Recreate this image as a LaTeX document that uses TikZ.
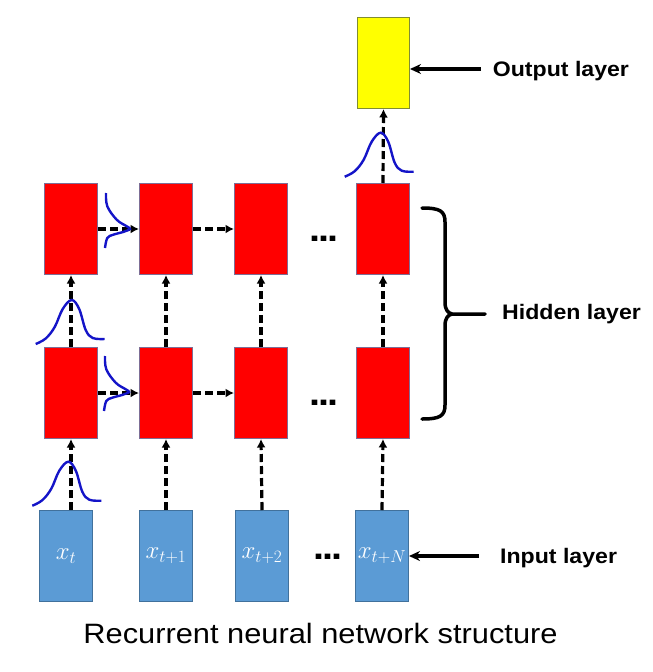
\documentclass[tikz,border=0pt]{standalone}
\usepackage{fontspec}
\setmainfont{Liberation Sans}[FakeStretch=1.1]
\usetikzlibrary{arrows.meta,calc}
\definecolor{redbox}{RGB}{255,0,0}
\definecolor{redline}{RGB}{125,110,150}
\definecolor{bluebox}{RGB}{91,155,213}
\definecolor{blueline}{RGB}{65,113,156}
\definecolor{yelbox}{RGB}{255,255,0}
\definecolor{yelline}{RGB}{128,140,50}
\definecolor{gaussblue}{RGB}{20,20,200}
\begin{document}
\begin{tikzpicture}[x=1pt,y=-1pt,
  cell/.style={draw, line width=1pt, minimum width=53pt, minimum height=91pt, inner sep=0pt, anchor=north west},
  hid/.style={cell, fill=redbox, draw=redline},
  inp/.style={cell, fill=bluebox, draw=blueline, text=white, font=\fontsize{26}{30}\selectfont},
  outbox/.style={cell, fill=yelbox, draw=yelline, minimum width=52pt},
  flow/.style={line width=3.2pt, dash pattern=on 8pt off 4pt, -{Latex[length=8.5pt,width=9pt]}},
  bigarrow/.style={line width=3.5pt, -{Stealth[length=11pt,width=10pt]}},
  brace/.style={line width=3.5pt, line cap=round, line join=round},
  lab/.style={inner sep=0pt, anchor=base west, font=\bfseries\fontsize{21}{24}\selectfont},
  dotsnode/.style={inner sep=0pt, anchor=base, font=\bfseries\fontsize{36}{40}\selectfont},
  gauss/.style={draw=gaussblue, line width=2.4pt},
  gaussup/.pic={\draw[gauss] plot[smooth,tension=0.6] coordinates {(-36,44) (-26,38.5) (-17,27) (-9,9) (0,0) (7.5,9) (14,30) (21,38) (33,39)};},
  gaussside/.pic={\draw[gauss] plot[smooth,tension=0.6] coordinates {(-24,-36) (-22.7,-22.7) (-13.3,-9.3) (-3.3,-2.7) (0,0) (-7,3) (-16.7,5.7) (-22.7,9) (-25,19)};}
]
\useasboundingbox (0,0) rectangle (653,672);

% hidden layer, upper row
\node[hid] (hU1) at (44,183) {};
\node[hid] (hU2) at (139,183) {};
\node[hid] (hU3) at (234,183) {};
\node[hid] (hU4) at (356,183) {};
% hidden layer, lower row
\node[hid] (hL1) at (44,347) {};
\node[hid] (hL2) at (139,347) {};
\node[hid] (hL3) at (234,347) {};
\node[hid] (hL4) at (356,347) {};
% input layer
\node[inp] (in1) at (39,510) {$x_t$};
\node[inp] (in2) at (139,510) {$x_{t+1}$};
\node[inp] (in3) at (235,510) {$x_{t+2}$};
\node[inp] (in4) at (355,510) {$x_{t+N}$};
% output layer
\node[outbox] (out) at (357,17) {};

% dots
\node[dotsnode] (dotsU) at (324,241) {.\kern-2pt.\kern-2pt.};
\node[dotsnode] (dotsL) at (324,405) {.\kern-2pt.\kern-2pt.};
\node[dotsnode] (dotsI) at (327.5,559.5) {.\kern-2pt.\kern-2pt.};

% vertical connectors
\draw[flow] (in1.north -| hL1.south) -- (hL1.south);
\draw[flow] (hL1.north) -- (hU1.south);
\draw[flow] (in2.north) -- (hL2.south);
\draw[flow] (hL2.north) -- (hU2.south);
\draw[flow] (in3.north) -- (hL3.south);
\draw[flow] (hL3.north) -- (hU3.south);
\draw[flow] (in4.north) -- (hL4.south);
\draw[flow] (hL4.north) -- (hU4.south);
\draw[flow] (hU4.north) -- (out.south);
% horizontal connectors
\draw[flow] (hU1.east) -- (hU2.west);
\draw[flow] (hU2.east) -- (hU3.west);
\draw[flow] (hL1.east) -- (hL2.west);
\draw[flow] (hL2.east) -- (hL3.west);

% gaussians
\pic at (68.3,461.7) {gaussup};
\pic at (71.7,300) {gaussup};
\pic at (380.7,132.7) {gaussup};
\pic at (130,229) {gaussside};
\pic at (129,392) {gaussside};

% labels
\coordinate (outtail) at (481,69);
\draw[bigarrow] (outtail) -- (outtail -| out.east);
\node[lab] (outlab) at (492.7,76) {Output layer};

\coordinate (intail) at (479,556);
\draw[bigarrow] (intail) -- (intail -| in4.east);
\node[lab] (inlab) at (500,563) {Input layer};

\draw[brace] (422,208) .. controls (440,208) and (445,211) .. (445,222) -- (445,302)
  .. controls (445,310) and (448,313) .. (452,314) -- (485,314);
\draw[brace] (452,314) .. controls (448,315) and (445,318) .. (445,326) -- (445,405)
  .. controls (445,416) and (440,419) .. (422,419);
\node[lab] (hidlab) at (502,319) {Hidden layer};

% caption
\node[inner sep=0pt, anchor=base, font=\fontsize{28}{32}\selectfont] (caption) at (320.5,643) {Recurrent neural network structure};
\end{tikzpicture}
\end{document}
